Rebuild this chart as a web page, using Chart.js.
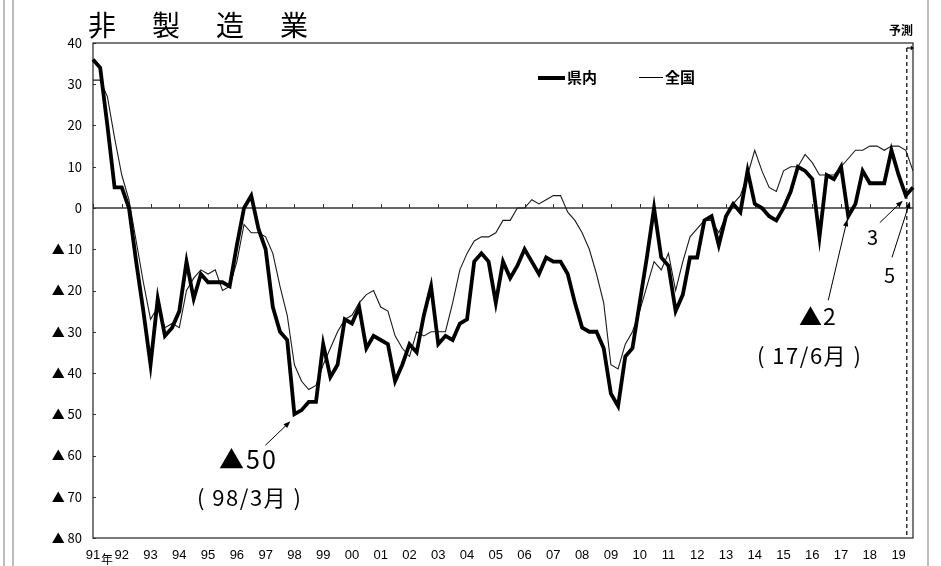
<!DOCTYPE html>
<html><head><meta charset="utf-8">
<script src="https://cdn.jsdelivr.net/npm/chart.js@4.4.0/dist/chart.umd.min.js"></script>
<style>
html,body{margin:0;padding:0;background:#fff;}
#wrap{position:relative;width:941px;height:566px;overflow:hidden;font-family:"Noto Sans CJK JP","Noto Sans",sans-serif;}
canvas{position:absolute;left:0;top:0;}
.t{position:absolute;white-space:nowrap;color:#000;line-height:1;}
.vl{position:absolute;top:0;height:566px;width:2px;background:#bdbdbd;}
.lg{position:absolute;background:#000;}
</style></head>
<body>
<div id="wrap">
  <canvas id="c" width="941" height="566"></canvas>
  <div class="vl" style="left:3px"></div>
  <div class="vl" style="left:12px"></div>
  <div class="vl" style="left:927px"></div>
  <div class="t" style="left:88px;top:10px;font-size:28px;letter-spacing:4px;">非　製　造　業</div>
  <div class="t" style="left:889px;top:24px;font-size:12px;font-weight:bold;">予測</div>
  <div class="lg" style="left:538px;top:76px;width:27px;height:4px;"></div>
  <div class="t" style="left:567px;top:69px;font-size:15px;font-weight:bold;">県内</div>
  <div class="lg" style="left:639px;top:77px;width:24px;height:1px;"></div>
  <div class="t" style="left:665px;top:69px;font-size:15px;font-weight:bold;">全国</div>
  <div class="t" style="left:219px;top:446px;font-size:25px;letter-spacing:2px;">▲50</div>
  <div class="t" style="left:197px;top:485px;font-size:22px;letter-spacing:1.5px;">( 98/3月 )</div>
  <div class="t" style="left:799px;top:304px;font-size:23px;letter-spacing:1px;">▲2</div>
  <div class="t" style="left:757px;top:343px;font-size:22px;letter-spacing:1.5px;">( 17/6月 )</div>
  <div class="t" style="left:867px;top:227px;font-size:20px;">3</div>
  <div class="t" style="left:884px;top:265px;font-size:20px;">5</div>
  <div class="t" style="left:101px;top:553px;font-size:12px;">年</div>
</div>
<script>
// ---- data ----
const yearLabels = ['91','92','93','94','95','96','97','98','99','00','01','02','03','04','05','06','07','08','09','10','11','12','13','14','15','16','17','18','19'];
const kennai = [
  36,34,20,5,5,0,-13,-25,-38,-22,
  -31,-29,-25,-13,-22,-16,-18,-18,-18,-19,
  -9,0,3,-5,-10,-24,-30,-32,-50,-49,
  -47,-47,-33,-41,-38,-27,-28,-24,-34,-31,
  -32,-33,-42,-38,-33,-35,-26,-19,-33,-31,
  -32,-28,-27,-13,-11,-13,-23,-13,-17,-14,
  -10,-13,-16,-12,-13,-13,-16,-23,-29,-30,
  -30,-34,-45,-48,-36,-34,-23,-12,0,-12,
  -14,-25,-21,-12,-12,-3,-2,-9,-2,1,
  -1,9,1,0,-2,-3,0,4,10,9,
  7,-7,8,7,10,-2,1,9,6,6,
  6,14,8,3,5
];
const zenkoku = [
  31,31,27,17,8,2,-8,-18,-27,-24,
  -29,-28,-29,-20,-17,-15,-16,-15,-20,-19,
  -13,-4,-6,-6,-7,-11,-19,-26,-38,-42,
  -44,-43,-38,-34,-30,-27,-26,-23,-21,-20,
  -24,-25,-31,-34,-36,-30,-31,-30,-30,-30,
  -23,-15,-11,-8,-7,-7,-6,-3,-3,0,
  0,2,1,2,3,3,-1,-3,-6,-10,
  -16,-23,-38,-39,-33,-30,-25,-19,-13,-15,
  -11,-20,-13,-7,-5,-3,-3,-6,-2,1,
  3,8,14,9,5,4,9,10,10,13,
  11,8,8,8,10,12,14,14,15,15,
  14,15,15,14,9
];
const forecastStart = 113;
const yMin = -80, yMax = 40, yStep = 10;

const quarters = yearLabels.flatMap(y => ['Q1','Q2','Q3','Q4'].map(q => y + q)).slice(0, kennai.length);

// callouts: data index on 県内 series, arrow tail/head offsets (px) from the point
const callouts = [
  {idx:28,  tail:[-29,31], head:[-4,7]},
  {idx:105, tail:[-20,84], head:[-1,3]},
  {idx:113, tail:[-26,27], head:[-3,5]},
  {idx:114, tail:[-21,70], head:[-3,14]}
];

function drawArrow(ctx, x1, y1, x2, y2){
  const ang = Math.atan2(y2 - y1, x2 - x1), L = 7, W = 2.6;
  ctx.beginPath(); ctx.moveTo(x1, y1); ctx.lineTo(x2 - Math.cos(ang)*4, y2 - Math.sin(ang)*4); ctx.stroke();
  ctx.beginPath();
  ctx.moveTo(x2, y2);
  ctx.lineTo(x2 - L*Math.cos(ang) + W*Math.sin(ang), y2 - L*Math.sin(ang) - W*Math.cos(ang));
  ctx.lineTo(x2 - L*Math.cos(ang) - W*Math.sin(ang), y2 - L*Math.sin(ang) + W*Math.cos(ang));
  ctx.closePath(); ctx.fill();
}

const deco = {
  id: 'deco',
  beforeDatasetsDraw(chart){
    const {ctx, chartArea:a, scales:{x, y}} = chart;
    const y0 = y.getPixelForValue(0);
    ctx.save();
    ctx.strokeStyle = '#333'; ctx.lineWidth = 1.4;
    ctx.beginPath(); ctx.moveTo(a.left, y0); ctx.lineTo(a.right, y0); ctx.stroke();
    ctx.lineWidth = 1;
    ctx.beginPath();
    for (let i = 0; i < quarters.length; i += 4){
      const px = Math.round(x.getPixelForValue(i)) + 0.5;
      ctx.moveTo(px, y0); ctx.lineTo(px, y0 - 4);
    }
    for (let v = yMin; v <= yMax; v += yStep){
      const py = Math.round(y.getPixelForValue(v)) + 0.5;
      ctx.moveTo(a.left, py); ctx.lineTo(a.left + 3, py);
    }
    ctx.stroke();
    ctx.strokeStyle = '#222'; ctx.lineWidth = 1.2;
    ctx.strokeRect(a.left, a.top, a.right - a.left, a.bottom - a.top);
    ctx.restore();
  },
  afterDatasetsDraw(chart){
    const {ctx, chartArea:a, scales:{x}} = chart;
    ctx.save();
    const fx = x.getPixelForValue(forecastStart) + 1;
    ctx.strokeStyle = '#000'; ctx.fillStyle = '#000'; ctx.lineWidth = 1.2;
    ctx.setLineDash([4, 3]);
    ctx.beginPath(); ctx.moveTo(fx, a.top + 5); ctx.lineTo(fx, a.bottom); ctx.stroke();
    ctx.setLineDash([]);
    ctx.beginPath(); ctx.moveTo(fx, a.top + 5); ctx.lineTo(fx + 5, a.top + 5); ctx.stroke();
    ctx.beginPath(); ctx.moveTo(fx + 4, a.top + 2.5); ctx.lineTo(fx + 4, a.top + 7.5); ctx.lineTo(fx + 7, a.top + 5); ctx.closePath(); ctx.fill();
    const meta = chart.getDatasetMeta(0);
    ctx.lineWidth = 1;
    callouts.forEach(c => {
      const p = meta.data[c.idx];
      drawArrow(ctx, p.x + c.tail[0], p.y + c.tail[1], p.x + c.head[0], p.y + c.head[1]);
    });
    ctx.restore();
  }
};

new Chart(document.getElementById('c'), {
  type: 'line',
  data: {
    labels: quarters,
    datasets: [
      {label:'県内', data:kennai, borderColor:'#000', borderWidth:3.8, pointRadius:0, tension:0, borderJoinStyle:'miter'},
      {label:'全国', data:zenkoku, borderColor:'#1a1a1a', borderWidth:1.1, pointRadius:0, tension:0}
    ]
  },
  options: {
    responsive:false, animation:false,
    layout:{padding:{top:43, right:28, left:0, bottom:0}},
    plugins:{legend:{display:false}, tooltip:{enabled:false}, title:{display:false}},
    scales:{
      x:{
        type:'category', offset:false,
        grid:{display:false, drawTicks:false}, border:{display:false},
        ticks:{autoSkip:false, maxRotation:0, minRotation:0, padding:10, color:'#000',
          font:{family:'"Liberation Sans", Arial, sans-serif', size:13},
          callback:(v, i) => (i % 4 === 0 ? yearLabels[i / 4] : '')},
        afterFit:s => { s.height = 28; }
      },
      y:{
        min:yMin, max:yMax,
        grid:{display:false, drawTicks:false}, border:{display:false},
        ticks:{stepSize:yStep, padding:11, color:'#000',
          font:{family:'"Noto Sans CJK JP", sans-serif', size:13},
          callback:v => (v < 0 ? '▲ ' + (-v) : String(v))},
        afterFit:s => { s.width = 93; }
      }
    }
  },
  plugins:[deco]
});
</script>
</body></html>
